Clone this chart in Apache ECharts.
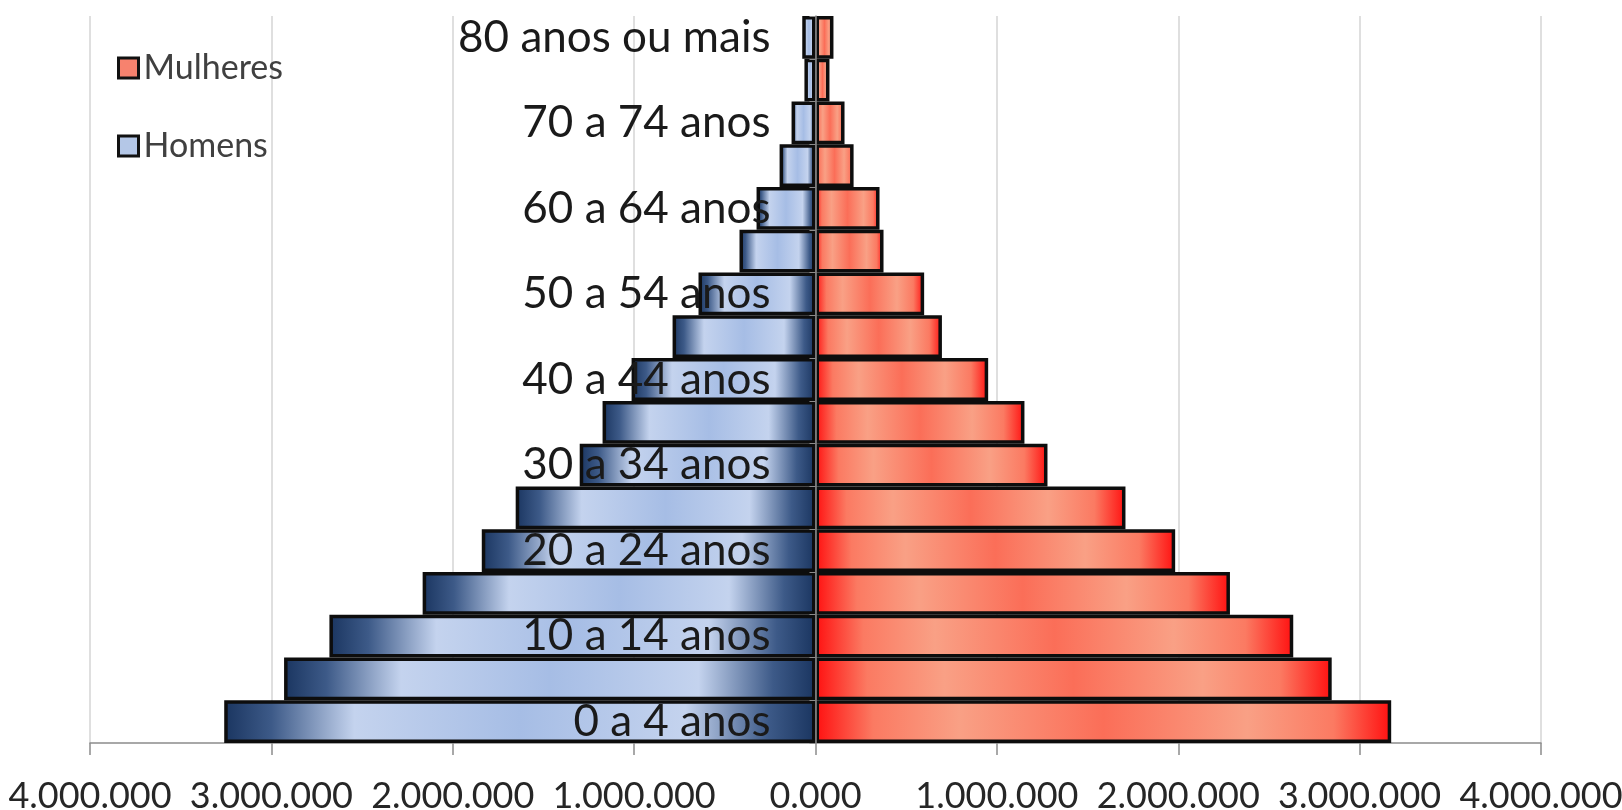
<!DOCTYPE html>
<html>
<head>
<meta charset="utf-8">
<script src="https://cdn.jsdelivr.net/npm/echarts@6/dist/echarts.min.js"></script>
<style>
  html, body { margin: 0; padding: 0; background: #fff; }
  #chart { width: 1622px; height: 810px; }
</style>
</head>
<body>
<div id="chart"></div>
<script>
// faixas etarias, de baixo para cima
const faixas = ['0 a 4 anos', '5 a 9 anos', '10 a 14 anos', '15 a 19 anos', '20 a 24 anos',
  '25 a 29 anos', '30 a 34 anos', '35 a 39 anos', '40 a 44 anos', '45 a 49 anos',
  '50 a 54 anos', '55 a 59 anos', '60 a 64 anos', '65 a 69 anos', '70 a 74 anos',
  '75 a 79 anos', '80 anos ou mais'];
const homens = [3260000, 2930000, 2680000, 2166000, 1840000, 1653000, 1300000, 1174000,
  1014000, 788000, 645000, 419000, 325000, 198000, 132000, 61000, 73000];
const mulheres = [3174000, 2846000, 2634000, 2285000, 1983000, 1709000, 1279000, 1152000,
  952000, 697000, 599000, 375000, 353000, 210000, 160000, 77000, 99000];

const fonte = 'Lato, "Open Sans", sans-serif';
const gridEsq = 90, gridDir = 81;

function milhar(v) {
  if (v === 0) return '0.000';
  return String(Math.abs(v)).replace(/\B(?=(\d{3})+(?!\d))/g, '.');
}

const gradAzul = new echarts.graphic.LinearGradient(0, 0, 1, 0, [
  {offset: 0, color: '#1a3560'},
  {offset: 0.08, color: '#3d5a88'},
  {offset: 0.22, color: '#c4d3ee'},
  {offset: 0.5, color: '#a6bde5'},
  {offset: 0.78, color: '#c4d3ee'},
  {offset: 0.92, color: '#3d5a88'},
  {offset: 1, color: '#1a3560'}
]);
const gradVermelho = new echarts.graphic.LinearGradient(0, 0, 1, 0, [
  {offset: 0, color: '#ff1010'},
  {offset: 0.1, color: '#fb7a62'},
  {offset: 0.25, color: '#f9a085'},
  {offset: 0.5, color: '#fb6e58'},
  {offset: 0.75, color: '#f9a085'},
  {offset: 0.9, color: '#fb7a62'},
  {offset: 1, color: '#ff1010'}
]);

let chart = echarts.init(document.getElementById('chart'));
// posicao do zero para colocar o eixo das categorias no meio
let larguraPlot = 1622 - gridEsq - gridDir;
let option = {
  backgroundColor: '#fff',
  animation: false,
  grid: {left: gridEsq, right: gridDir, top: 16, bottom: 67, containLabel: false, outerBoundsMode: 'none'},
  legend: {
    orient: 'vertical',
    left: 112,
    top: 46,
    icon: 'rect',
    itemWidth: 20,
    itemHeight: 20,
    itemGap: 44,
    textStyle: {fontFamily: fonte, fontSize: 34, color: '#404040'},
    data: [
      {name: 'Mulheres', itemStyle: {color: '#f7826e', borderColor: '#111', borderWidth: 3}},
      {name: 'Homens', itemStyle: {color: '#b4c7e7', borderColor: '#111', borderWidth: 3}}
    ]
  },
  xAxis: {
    type: 'value',
    min: -4000000,
    max: 4000000,
    interval: 1000000,
    axisLine: {show: true, lineStyle: {color: '#8c8c8c', width: 1.5}},
    axisTick: {show: true, length: 12, lineStyle: {color: '#8c8c8c', width: 1.5}},
    axisLabel: {
      margin: 35,
      fontFamily: fonte,
      fontSize: 36,
      color: '#262626',
      formatter: milhar
    },
    splitLine: {show: true, lineStyle: {color: '#d4d4d4', width: 1.5}}
  },
  yAxis: {
    type: 'category',
    data: faixas,
    z: 5,
    position: 'left',
    offset: -larguraPlot / 2,
    axisLine: {onZero: false, lineStyle: {color: '#8c8c8c', width: 1.5}},
    axisTick: {show: true, interval: 0, length: 6, lineStyle: {color: '#8c8c8c'}},
    axisLabel: {
      interval: 1,
      margin: 45,
      fontFamily: fonte,
      fontSize: 44,
      color: '#1a1a1a'
    }
  },
  series: [
    {
      name: 'Homens',
      type: 'bar',
      data: homens.map(v => -v),
      barCategoryGap: '0%',
      barGap: '-100%',
      itemStyle: {color: gradAzul, borderColor: '#0d0d0d', borderWidth: 3.5}
    },
    {
      name: 'Mulheres',
      type: 'bar',
      data: mulheres,
      barCategoryGap: '0%',
      barGap: '-100%',
      itemStyle: {color: gradVermelho, borderColor: '#0d0d0d', borderWidth: 3.5}
    }
  ]
};
chart.setOption(option);
</script>
</body>
</html>
